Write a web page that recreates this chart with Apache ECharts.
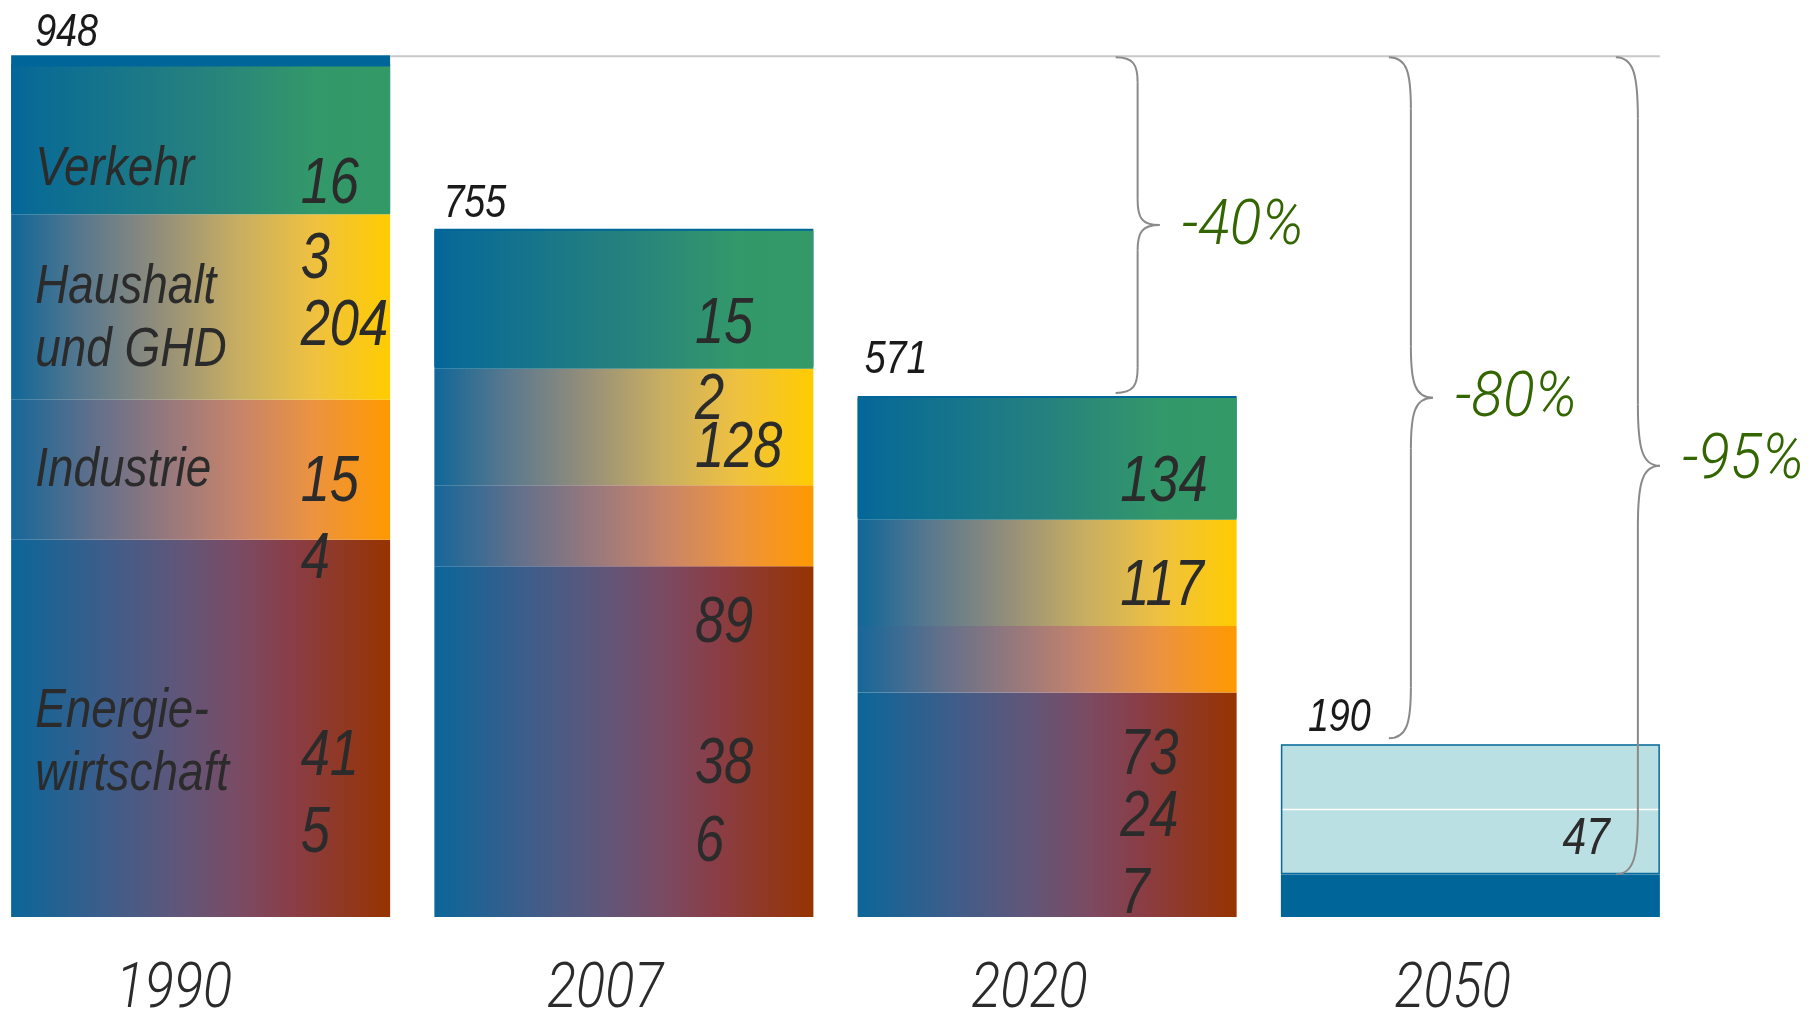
<!DOCTYPE html>
<html><head><meta charset="utf-8">
<script src="https://cdn.jsdelivr.net/npm/echarts@6/dist/echarts.min.js"></script>
<style>html,body{margin:0;padding:0;background:#fff}#c{width:1818px;height:1013px}</style>
</head><body><div id="c"></div><script>
// ---------- data ----------
const years = ['1990', '2007', '2020', '2050'];
const totals = [948, 755, 571, 190];
const energie = [415, 386, 247, null];
const industrie = [154, 89, 73, null];
const haushalt = [204, 128, 117, null];
const verkehr = [163, 152, 134, null];
const sonstige = [12, null, null, null];
const rest2050 = [null, null, null, 47];
const ziel2050a = [null, null, null, 72];
const ziel2050b = [null, null, null, 71];
const sectorNames = ['Verkehr', 'Haushalt\nund GHD', 'Industrie', 'Energie-\nwirtschaft'];
const braceTargets = [571, 190, 47];

// ---------- layout / style ----------
const SANS = '"Liberation Sans", Arial, sans-serif';
const LIGHT = 'Roboto, "Liberation Sans", sans-serif';
const NARROW_X = 0.82;      // horizontal squeeze to imitate a condensed face
const BAR_W = 379;
const TXT = '#2b2b2b';
const BLUE = '#006699';
function grad(stops) {
  return { type: 'linear', x: 0, y: 0, x2: 1, y2: 0, colorStops: stops.map(s => ({ offset: s[0], color: s[1] })) };
}
const gVerkehr = grad([[0, '#03669a'], [0.05, '#096a96'], [0.5, '#25817e'], [0.8, '#33986a'], [1, '#339966']]);
const gHaushalt = grad([[0, '#0f6798'], [0.18, '#56778f'], [0.38, '#8f8c7c'], [0.6, '#c8ae62'], [0.8, '#efc140'], [1, '#ffcc00']]);
const gIndustrie = grad([[0, '#16679a'], [0.22, '#62708b'], [0.45, '#a07a7a'], [0.6, '#c6846a'], [0.8, '#ec9340'], [1, '#ff9900']]);
const gEnergie = grad([[0, '#0b6699'], [0.25, '#3e5d8a'], [0.45, '#615679'], [0.6, '#7a4b64'], [0.75, '#8a3d45'], [1, '#963300']]);

// value label fragments: [yearIdx, source, start, end, y in value units]
const seriesByKey = { energie, industrie, haushalt, verkehr, rest2050 };
const fragLayout = [
  [0, 'verkehr', 0, 2, 805], [0, 'verkehr', 2, 3, 722], [0, 'haushalt', 0, 3, 649],
  [0, 'industrie', 0, 2, 477], [0, 'industrie', 2, 3, 393], [0, 'energie', 0, 2, 176], [0, 'energie', 2, 3, 91],
  [1, 'verkehr', 0, 2, 651], [1, 'verkehr', 2, 3, 567], [1, 'haushalt', 0, 3, 515],
  [1, 'industrie', 0, 2, 322], [1, 'energie', 0, 2, 167], [1, 'energie', 2, 3, 81],
  [2, 'verkehr', 0, 3, 477], [2, 'haushalt', 0, 3, 363], [2, 'industrie', 0, 2, 177],
  [2, 'energie', 0, 2, 109], [2, 'energie', 2, 3, 24],
  [3, 'rest2050', 0, 2, 85]
];
const fragDx = [100, 71, 73, 92];
const fragSize = [64, 64, 64, 52];
const sectorLabelY = [822, 658, 491, 191];
const totalLabelOff = [[24, -22], [9, -27], [7, -38], [27, -26]];
const yearLabelDx = [-85, -77, -76, -76];
const braceX = [[2, 90.5], [3, -59.5], [3, 167.5]];
const braceGap = [5, 6, 0];
const pctDy = [3, 3, -3];

function bar(name, data, color, extra) {
  return Object.assign({ type: 'bar', name, data, stack: 'total', barWidth: BAR_W, itemStyle: { color }, emphasis: { disabled: true } }, extra || {});
}

const chart = echarts.init(document.getElementById('c'), null, { width: 1818, height: 1013 });
chart.setOption({
  animation: false,
  backgroundColor: '#ffffff',
  grid: { left: -11, right: 136, top: 8, bottom: 96, containLabel: false, outerBoundsMode: 'none' },
  xAxis: {
    type: 'category', data: years,
    axisLine: { show: false }, axisTick: { show: false }, splitLine: { show: false },
    axisLabel: { show: false }
  },
  yAxis: { type: 'value', min: 0, max: 1000, show: false },
  series: [
    bar('Energiewirtschaft', energie, gEnergie),
    bar('Industrie', industrie, gIndustrie),
    bar('Haushalt und GHD', haushalt, gHaushalt),
    bar('Verkehr', verkehr, gVerkehr, { itemStyle: { color: gVerkehr, shadowColor: BLUE, shadowOffsetY: -2, shadowBlur: 0 } }),
    bar('Sonstige', sonstige, BLUE),
    bar('2050 Rest', rest2050, BLUE),
    bar('2050 a', ziel2050a, '#bbe0e3'),
    bar('2050 b', ziel2050b, '#bbe0e3', { itemStyle: { color: '#bbe0e3', shadowColor: '#ffffff', shadowOffsetY: 1.5, shadowBlur: 0 } }),
    { type: 'bar', name: 'outline base', data: rest2050, stack: 'outline', barWidth: BAR_W, barGap: '-100%',
      itemStyle: { color: 'rgba(0,0,0,0)' }, emphasis: { disabled: true }, silent: true },
    { type: 'bar', name: 'outline', data: [null, null, null, ziel2050a[3] + ziel2050b[3]], stack: 'outline', barWidth: BAR_W, barGap: '-100%', z: 3,
      itemStyle: { color: 'rgba(0,0,0,0)', borderColor: '#0a6a9b', borderWidth: 1.5 }, emphasis: { disabled: true }, silent: true }
  ]
});

const px = (i, v) => chart.convertToPixel({ xAxisIndex: 0, yAxisIndex: 0 }, [i, v]);
const els = [];
const half = BAR_W / 2;
function txt(x, y, text, o) {
  return { type: 'text', x, y, scaleX: o.sx || NARROW_X, z: 60, silent: true,
    style: { text, fill: o.fill || TXT, fontSize: o.size, lineHeight: o.lh, fontFamily: o.family || SANS,
      fontStyle: 'italic', fontWeight: o.weight || 'normal', align: o.align || 'left', verticalAlign: 'middle' } };
}

// top reference line
const pTop = px(0, totals[0]);
const pEnd = px(3, totals[0]);
els.push({ type: 'line', shape: { x1: pTop[0] + half, y1: pTop[1] + 1, x2: pEnd[0] + half, y2: pEnd[1] + 1 },
  style: { stroke: '#c8c8c8', lineWidth: 2 }, z: 50 });

// category labels (x axis)
years.forEach((y, i) => {
  const p = px(i, 0);
  els.push(txt(p[0] + yearLabelDx[i], p[1] + 74, y, { size: 63, family: LIGHT, weight: 300, sx: 0.86 }));
});

// totals
totals.forEach((t, i) => {
  const p = px(i, t);
  els.push(txt(p[0] - half + totalLabelOff[i][0], p[1] + totalLabelOff[i][1], String(t), { size: 46, fill: '#1a1a1a' }));
});

// sector names (1990 bar)
sectorNames.forEach((s, k) => {
  const p = px(0, sectorLabelY[k]);
  els.push(txt(p[0] - half + 24, p[1], s, { size: 56, lh: 63 }));
});

// value fragments
fragLayout.forEach(f => {
  const [i, key, a, b, y] = f;
  const t = String(seriesByKey[key][i]).slice(a, b);
  const p = px(i, y);
  els.push(txt(p[0] + fragDx[i], p[1], t, { size: fragSize[i] }));
});

// braces
braceTargets.forEach((tv, k) => {
  const [ci, dx] = braceX[k];
  const xv = px(ci, 0)[0] + dx;
  const yT = pTop[1] + 2;
  const yB = px(ci, tv)[1] - braceGap[k];
  const yM = (yT + yB) / 2;
  const c = 0.075 * (yB - yT);
  const w = 22;
  const st = { stroke: '#8a8a8a', lineWidth: 2, fill: null };
  els.push({ type: 'bezierCurve', z: 55, style: st, shape: { x1: xv - w, y1: yT, cpx1: xv - 4, cpy1: yT, cpx2: xv, cpy2: yT + c * 0.3, x2: xv, y2: yT + c } });
  els.push({ type: 'line', z: 55, style: st, shape: { x1: xv, y1: yT + c, x2: xv, y2: yM - c } });
  els.push({ type: 'bezierCurve', z: 55, style: st, shape: { x1: xv, y1: yM - c, cpx1: xv, cpy1: yM - c * 0.3, cpx2: xv + 4, cpy2: yM, x2: xv + w, y2: yM } });
  els.push({ type: 'bezierCurve', z: 55, style: st, shape: { x1: xv + w, y1: yM, cpx1: xv + 4, cpy1: yM, cpx2: xv, cpy2: yM + c * 0.3, x2: xv, y2: yM + c } });
  els.push({ type: 'line', z: 55, style: st, shape: { x1: xv, y1: yM + c, x2: xv, y2: yB - c } });
  els.push({ type: 'bezierCurve', z: 55, style: st, shape: { x1: xv, y1: yB - c, cpx1: xv, cpy1: yB - c * 0.3, cpx2: xv - 4, cpy2: yB, x2: xv - w, y2: yB } });
  const pct = '-' + Math.round((1 - tv / totals[0]) * 100) + '%';
  els.push(txt(xv + w + 22, yM + pctDy[k], pct, { size: 62, fill: '#336600', family: LIGHT, weight: 300, sx: 0.95 }));
});

chart.setOption({ graphic: { elements: els } });
</script></body></html>
